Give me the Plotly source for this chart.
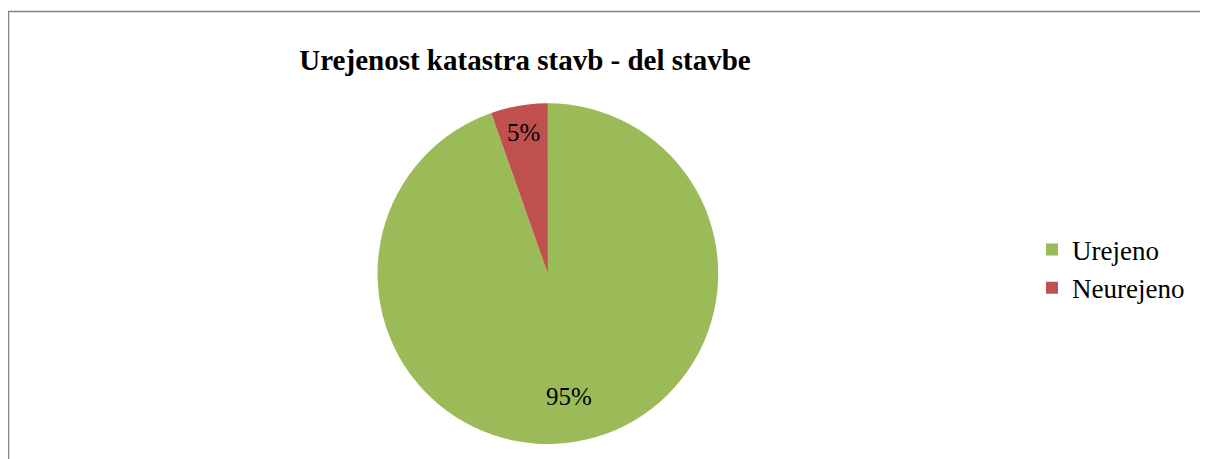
import numpy as np
import plotly.graph_objects as go

# ---- data ----
categories = ["Urejeno", "Neurejeno"]
values = [94.6, 5.4]
colors = ["#9BBB59", "#C0504D"]
title_text = "Urejenost katastra stavb - del stavbe"

# page has an 8px body margin; the figure fills the rest of the window
OFF = 8
W, H = 1200, 451
FONT = "Liberation Serif, Times New Roman, serif"


def px_x(x):
    return (x - OFF) / W


def px_y(y):
    return 1 - (y - OFF) / H


# pie placement (reference pixels -> paper)
dom_x = [px_x(376.7), px_x(719.0)]
dom_y = [px_y(444.0), px_y(103.3)]

fig = go.Figure()
fig.add_trace(go.Pie(
    labels=categories,
    values=values,
    marker=dict(colors=colors, line=dict(width=0)),
    sort=False,
    direction="clockwise",
    rotation=0,
    textinfo="none",
    hoverinfo="label+percent",
    domain=dict(x=dom_x, y=dom_y),
    showlegend=True,
))

# data labels placed along each slice's mid-angle
cx_px = (dom_x[0] + dom_x[1]) / 2 * W
cy_px = (1 - (dom_y[0] + dom_y[1]) / 2) * H
r_px = min((dom_x[1] - dom_x[0]) * W, (dom_y[1] - dom_y[0]) * H) / 2
tot = float(sum(values))
cum = 0.0
radial = [0.73, 0.84]
for i, v in enumerate(values):
    mid = (cum + v / 2) / tot * 2 * np.pi
    cum += v
    px = cx_px + radial[i] * r_px * np.sin(mid)
    py = cy_px - radial[i] * r_px * np.cos(mid)
    fig.add_annotation(
        x=px / W, y=1 - py / H, xref="paper", yref="paper",
        text=f"{round(v / tot * 100):.0f}%", showarrow=False,
        font=dict(family=FONT, size=25, color="black"),
        xanchor="center", yanchor="middle",
    )

fig.add_shape(
    type="rect", xref="paper", yref="paper",
    x0=0.6 / W, x1=1.05, y0=-0.05, y1=px_y(11.5),
    line=dict(color="#858585", width=1.3), fillcolor="rgba(0,0,0,0)", layer="above",
)

fig.update_layout(
    width=W, height=H,
    margin=dict(l=0, r=0, t=0, b=0),
    paper_bgcolor="white", plot_bgcolor="white",
    title=dict(
        text=f"<b>{title_text}</b>",
        x=px_x(525), y=px_y(60), xref="paper", yref="container",
        xanchor="center", yanchor="middle",
        font=dict(family=FONT, size=29, color="black"),
    ),
    legend=dict(
        x=px_x(1032), y=px_y(269), xanchor="left", yanchor="middle",
        font=dict(family=FONT, size=27, color="black"),
        bgcolor="rgba(0,0,0,0)",
    ),
)

fig.write_html("out.html")
